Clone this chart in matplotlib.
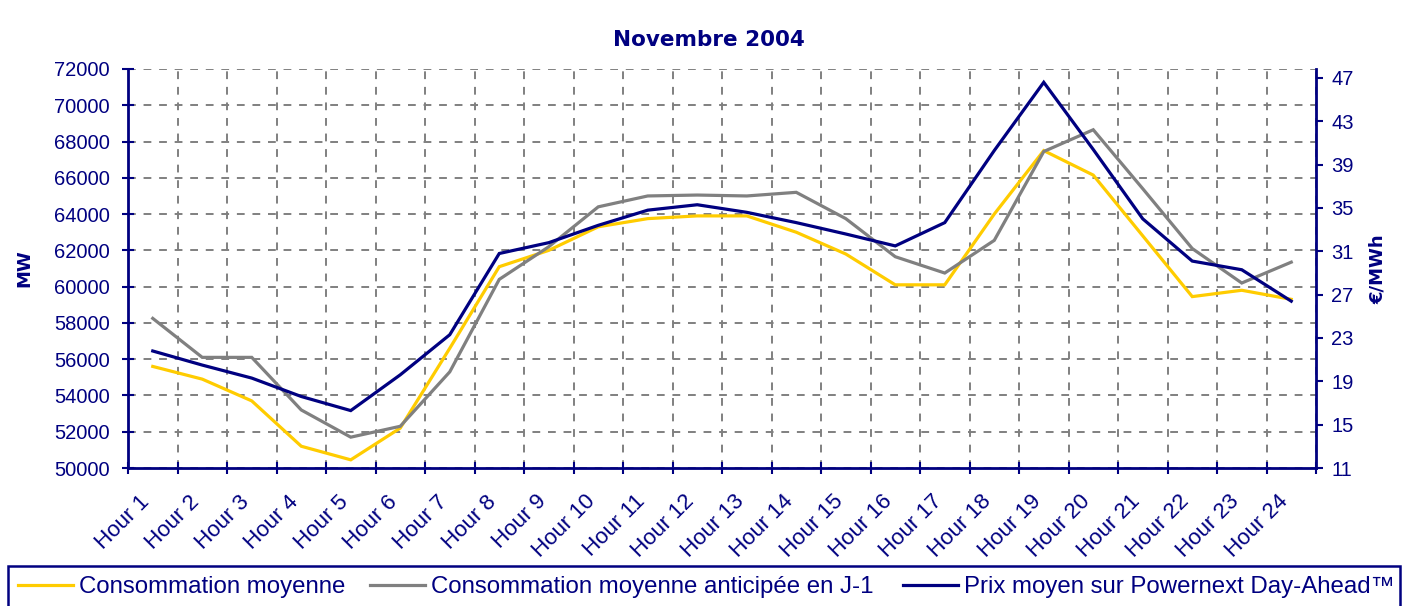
import numpy as np
import matplotlib
matplotlib.use("Agg")
import matplotlib.pyplot as plt
from matplotlib.patches import Rectangle
from matplotlib.transforms import ScaledTranslation

hours = ["Hour 1", "Hour 2", "Hour 3", "Hour 4", "Hour 5", "Hour 6",
         "Hour 7", "Hour 8", "Hour 9", "Hour 10", "Hour 11", "Hour 12",
         "Hour 13", "Hour 14", "Hour 15", "Hour 16", "Hour 17", "Hour 18",
         "Hour 19", "Hour 20", "Hour 21", "Hour 22", "Hour 23", "Hour 24"]

conso = [55600, 54900, 53700, 51200, 50450, 52200, 56600, 61100, 62000, 63300,
         63750, 63900, 63900, 63000, 61800, 60100, 60100, 64000, 67500, 66150,
         62800, 59450, 59800, 59300]

conso_j1 = [58250, 56100, 56100, 53200, 51700, 52300, 55300, 60400, 62200, 64400,
            65000, 65050, 65000, 65200, 63750, 61650, 60750, 62550, 67450, 68650,
            65400, 62100, 60200, 61350]

prix = [21.8, 20.5, 19.3, 17.6, 16.3, 19.6, 23.3, 30.8, 31.8, 33.4,
        34.8, 35.3, 34.6, 33.65, 32.6, 31.5, 33.65, 40.3, 46.6, 40.4,
        34.0, 30.1, 29.3, 26.4]

left_ticks = [50000, 52000, 54000, 56000, 58000, 60000, 62000, 64000, 66000, 68000, 70000, 72000]
right_ticks = [11, 15, 19, 23, 27, 31, 35, 39, 43, 47]

series_labels = ["Consommation moyenne",
                 "Consommation moyenne anticipée en J-1",
                 "Prix moyen sur Powernext Day-Ahead™"]

NAVY = "#000080"
YELLOW = "#FFCC00"
GREY = "#808080"
W, H = 1406, 606

fig = plt.figure(figsize=(W / 100, H / 100), dpi=100)
fig.patch.set_facecolor("white")
ax = fig.add_axes([128 / W, 1 - 468 / H, (1316 - 128) / W, (468 - 69) / H])
ax2 = ax.twinx()

x = np.arange(len(hours))
l1, = ax.plot(x, conso, color=YELLOW, lw=2.3, solid_joinstyle="miter", zorder=3)
l2, = ax.plot(x, conso_j1, color=GREY, lw=2.3, solid_joinstyle="miter", zorder=3)
l3, = ax2.plot(x, prix, color=NAVY, lw=2.3, solid_joinstyle="miter", zorder=3)

ax.set_xlim(-0.5, len(hours) - 0.5)
ax.set_ylim(50000, 72000)
ax2.set_ylim(11, 47.83)

ax.set_yticks(left_ticks)
ax.set_yticklabels([str(v) for v in left_ticks])
ax2.set_yticks(right_ticks)
ax2.set_yticklabels([str(v) for v in right_ticks])

ax.set_xticks(np.arange(-0.5, len(hours), 1.0))
ax.set_xticklabels([])
ax.set_xticks(x, minor=True)
ax.set_xticklabels(hours, minor=True, rotation=45, ha="right", va="center",
                   rotation_mode="anchor", family="Liberation Sans",
                   fontsize=16, color=NAVY)
ax.tick_params(axis="x", which="minor", length=0, pad=22)
ax.tick_params(axis="x", which="major", direction="inout", length=8,
               width=1.5, color=NAVY)
ax.tick_params(axis="y", direction="inout", length=8, width=1.5, color=NAVY,
               labelcolor=NAVY, labelsize=14.5, pad=9)
ax2.tick_params(axis="y", direction="out", length=5, width=1.5, color=NAVY,
                labelcolor=NAVY, labelsize=14.5, pad=6)
for lab in ax.get_yticklabels() + ax2.get_yticklabels():
    lab.set_family("Liberation Sans")
offset = ScaledTranslation(-6 / 100, 0, fig.dpi_scale_trans)
for lab in ax.get_xticklabels(minor=True):
    lab.set_transform(lab.get_transform() + offset)

ax.grid(True, which="major", color=GREY, linestyle=(0, (4, 4)), lw=1.4, zorder=1)
ax.set_axisbelow(True)

for s in ["top", "right"]:
    ax.spines[s].set_visible(False)
for s in ["left", "bottom"]:
    ax.spines[s].set_color(NAVY)
    ax.spines[s].set_linewidth(2)
for s in ["top", "left", "bottom"]:
    ax2.spines[s].set_visible(False)
ax2.spines["right"].set_color(NAVY)
ax2.spines["right"].set_linewidth(2)

fig.text(709 / W, 1 - 40 / H, "Novembre 2004", ha="center", va="center",
         fontsize=15.5, fontweight="bold", color=NAVY, family="DejaVu Sans")
fig.text(24 / W, 1 - 268 / H, "MW", ha="center", va="center", rotation=90,
         fontsize=13, fontweight="bold", color=NAVY, family="DejaVu Sans")
fig.text(1378 / W, 1 - 269 / H, "€/MWh", ha="center", va="center", rotation=90,
         fontsize=13, fontweight="bold", color=NAVY, family="DejaVu Sans")

# legend frame (cut at bottom like reference)
fig.patches.append(Rectangle((8 / W, -0.1), (1400 - 8) / W, 0.1 + (606 - 566) / H,
                             transform=fig.transFigure, fill=False,
                             edgecolor=NAVY, lw=1.8))
entry_x = [18, 370, 903]
for line, label, x0 in zip([l1, l2, l3], series_labels, entry_x):
    leg = fig.legend([line], [label], loc="center left",
                     bbox_to_anchor=(x0 / W, 1 - 587 / H), frameon=False,
                     borderpad=0, borderaxespad=0, handlelength=2.3,
                     handletextpad=0.25,
                     prop={"family": "Liberation Sans", "size": 17.3})
    for t in leg.get_texts():
        t.set_color(NAVY)

fig.savefig("out.png", dpi=100, facecolor="white")
